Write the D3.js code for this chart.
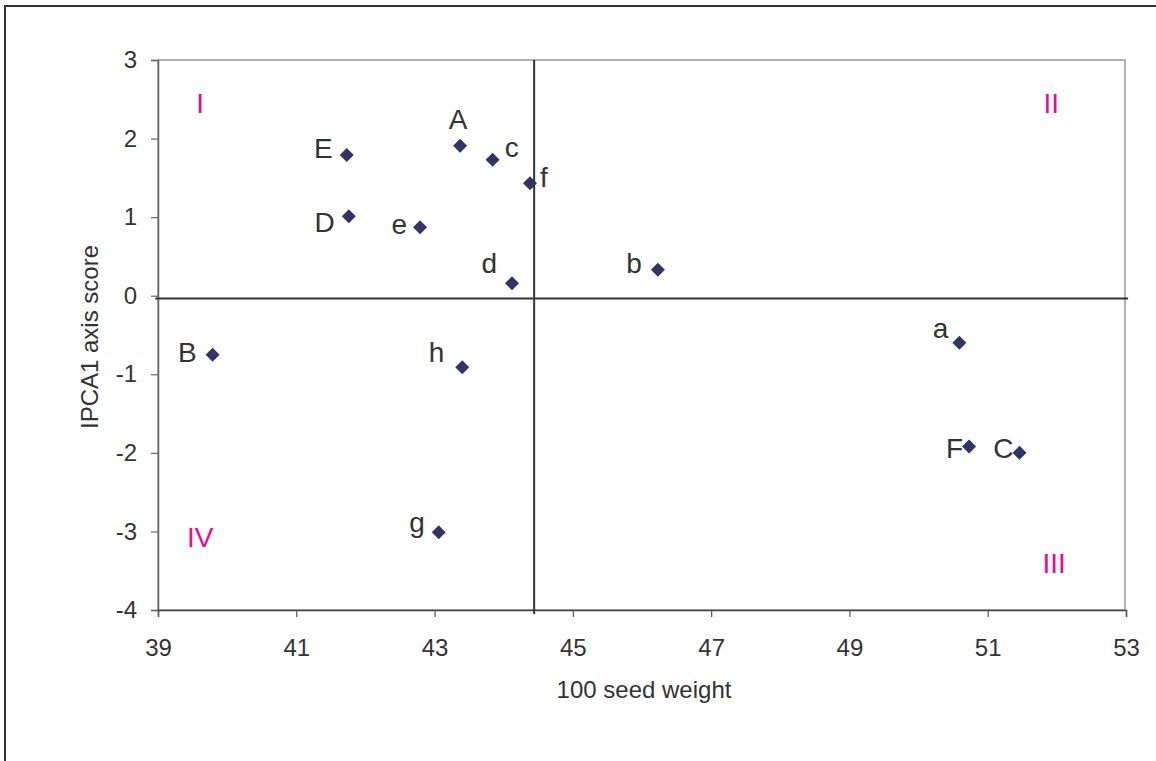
<!DOCTYPE html>
<html>
<head>
<meta charset="utf-8">
<script src="https://cdn.jsdelivr.net/npm/d3@7"></script>
<style>
  body { margin: 0; background: #fff; }
  text { font-family: "Liberation Sans", Arial, sans-serif; fill: #333; }
</style>
</head>
<body>
<svg class="chart"></svg>
<script>
// genotype codes and their values
var names = ["A", "B", "C", "D", "E", "F", "a", "b", "c", "d", "e", "f", "g", "h"];
var seedWeight = [43.37, 39.79, 51.46, 41.76, 41.73, 50.73, 50.59, 46.23, 43.84, 44.12, 42.79, 44.38, 43.06, 43.40];
var ipca1 = [1.91, -0.75, -2.00, 1.01, 1.79, -1.92, -0.60, 0.33, 1.73, 0.16, 0.87, 1.43, -3.01, -0.91];

var xTicks = [39, 41, 43, 45, 47, 49, 51, 53];
var yTicks = [-4, -3, -2, -1, 0, 1, 2, 3];

// quadrant dividers (x mean, y mean)
var xDivide = 44.44;
var yDivide = -0.035;
var quadrants = ["I", "II", "III", "IV"];

// label placement, kept apart from the values
var labelPos = {
    A: ["middle", -2, -17], B: ["end", -16, 7], C: ["end", -6, 5], D: ["end", -14, 16],
    E: ["end", -14, 3], F: ["end", -6, 11], a: ["end", -11, -5], b: ["end", -16, 3],
    c: ["start", 12, -3], d: ["end", -15, -10], e: ["end", -13, 7], f: ["start", 10, 4],
    g: ["end", -14, 0], h: ["end", -18, -5]
};
var quadPos = { I: [39.61, 2.33], II: [51.92, 2.33], III: [51.96, -3.53], IV: [39.61, -3.20] };

var data = names.map(function(n, i){
    return { name: n, x: seedWeight[i], y: ipca1[i] };
});

var margin = {top: 60, right: 30, bottom: 151, left: 158};
var width = 968;
var height = 550;

var svg = d3.select(".chart")
    .attr("width", 1156)
    .attr("height", 761);

// outer frame
svg.append("rect")
    .attr("x", 5).attr("y", 6)
    .attr("width", 1170).attr("height", 780)
    .attr("fill", "none")
    .attr("stroke", "#333")
    .attr("stroke-width", 2);

var chart = svg.append("g")
    .attr("transform", "translate(" + margin.left + "," + margin.top + ")");

var xChart = d3.scaleLinear().domain([39, 53]).range([0, width]);
var yChart = d3.scaleLinear().domain([-4, 3]).range([height, 0]);

// plot area border
chart.append("rect")
    .attr("x", 0).attr("y", 0)
    .attr("width", width - 1).attr("height", height)
    .attr("fill", "none")
    .attr("stroke", "#999")
    .attr("stroke-width", 1.5);

// plain hyphen for negatives, as in the original
var plain = function(d){ return String(d); };
var yAxis = d3.axisLeft(yChart).tickValues(yTicks).tickSize(7).tickPadding(14).tickFormat(plain);
var xAxis = d3.axisBottom(xChart).tickValues(xTicks).tickSize(7).tickPadding(22).tickFormat(plain);

var gy = chart.append("g").attr("class", "y axis").call(yAxis);
var gx = chart.append("g").attr("class", "xAxis")
    .attr("transform", "translate(0," + height + ")")
    .call(xAxis);

gy.select(".domain").attr("stroke", "#666").attr("stroke-width", 1.5);
gy.selectAll(".tick line").attr("stroke", "#666").attr("stroke-width", 1.2);
gx.select(".domain").attr("stroke", "#444").attr("stroke-width", 1.5);
gx.selectAll(".tick line").attr("stroke", "#555").attr("stroke-width", 1.2);
chart.selectAll(".tick text")
    .style("font-size", "24px")
    .style("font-family", "'Liberation Sans', Arial, sans-serif")
    .attr("fill", "#333");

// quadrant lines
chart.append("line")
    .attr("x1", xChart(38.96)).attr("x2", xChart(53.03))
    .attr("y1", yChart(yDivide)).attr("y2", yChart(yDivide))
    .attr("stroke", "#333").attr("stroke-width", 2);
chart.append("line")
    .attr("x1", xChart(xDivide)).attr("x2", xChart(xDivide))
    .attr("y1", yChart(3)).attr("y2", yChart(-4.05))
    .attr("stroke", "#333").attr("stroke-width", 2);

// points
chart.selectAll(".pt")
    .data(data)
    .enter()
    .append("path")
    .attr("class", "pt")
    .attr("d", d3.symbol(d3.symbolSquare, 98))
    .attr("transform", function(d){
        return "translate(" + xChart(d.x) + "," + yChart(d.y) + ") rotate(45)";
    })
    .attr("fill", "#333366");

chart.selectAll(".lbl")
    .data(data)
    .enter()
    .append("text")
    .attr("class", "lbl")
    .attr("x", function(d){ return xChart(d.x) + labelPos[d.name][1]; })
    .attr("y", function(d){ return yChart(d.y) + labelPos[d.name][2]; })
    .attr("text-anchor", function(d){ return labelPos[d.name][0]; })
    .style("font-size", "28px")
    .text(function(d){ return d.name; });

// quadrant numerals
chart.selectAll(".quad")
    .data(quadrants)
    .enter()
    .append("text")
    .attr("class", "quad")
    .attr("x", function(d){ return xChart(quadPos[d][0]); })
    .attr("y", function(d){ return yChart(quadPos[d][1]); })
    .attr("text-anchor", "middle")
    .style("font-size", "28px")
    .style("fill", "#f0078c")
    .text(function(d){ return d; });

// axis titles
chart.append("text")
    .attr("transform", "translate(" + (width / 2 + 2) + "," + (height + 88) + ")")
    .attr("text-anchor", "middle")
    .style("font-size", "24px")
    .text("100 seed weight");

chart.append("text")
    .attr("transform", "translate(-60," + (height / 2 + 2) + ") rotate(-90)")
    .attr("text-anchor", "middle")
    .style("font-size", "24px")
    .text("IPCA1 axis score");
</script>
</body>
</html>
